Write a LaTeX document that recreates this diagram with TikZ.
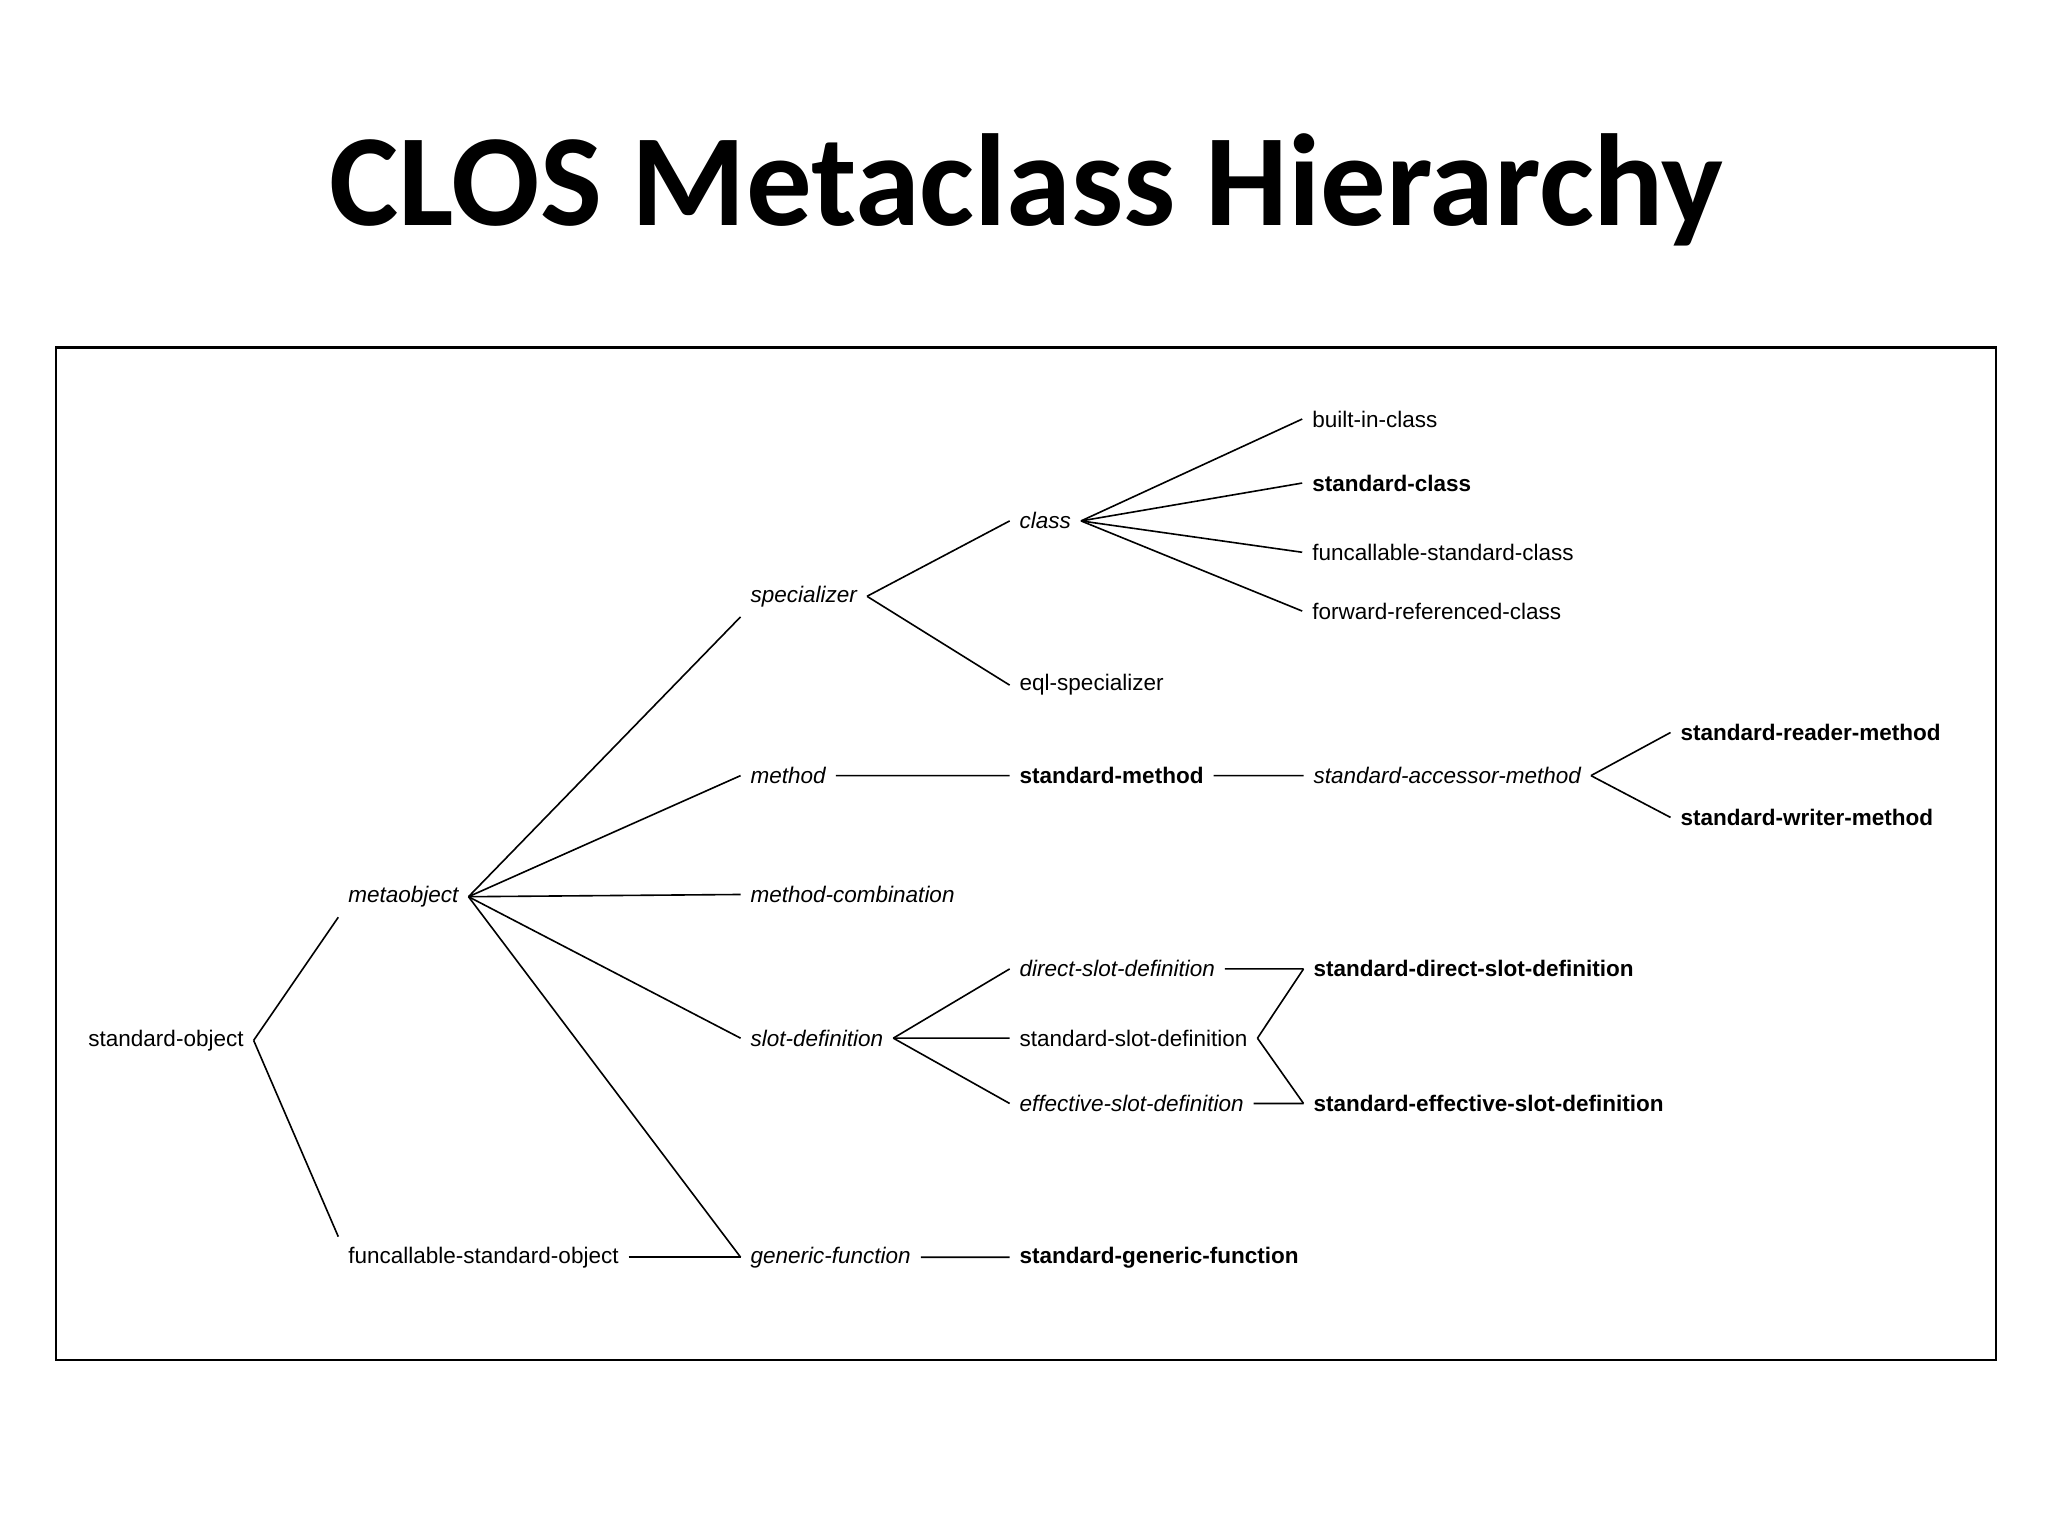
\documentclass[tikz,border=0pt]{standalone}
\usepackage{fontspec}
\setmainfont{Liberation Sans}
\newfontfamily\titlefont{Carlito}
\begin{document}
\begin{tikzpicture}[x=0.01cm,y=-0.01cm,
  lbl/.style={anchor=base west,inner sep=0.07cm,font=\fontsize{4.9pt}{6pt}\selectfont},
  it/.style={lbl,font=\fontsize{4.9pt}{6pt}\selectfont\itshape},
  bf/.style={lbl,font=\fontsize{4.9pt}{6pt}\selectfont\bfseries},
  edge/.style={line width=0.35pt}]
\useasboundingbox (0,0) rectangle (1568,1176);
\node[font=\titlefont\bfseries\fontsize{28.5pt}{32pt}\selectfont] (title) at (786,145) {CLOS Metaclass Hierarchy};
\draw[line width=0.5pt] (43,266) rectangle (1528,1041);
\node[lbl] (so) at (60,801) {standard-object};
\node[it] (mo) at (259,691) {metaobject};
\node[lbl] (fso) at (259,967) {funcallable-standard-object};
\node[it] (sp) at (567,461) {specializer};
\node[it] (me) at (567,600) {method};
\node[it] (mc) at (567,691) {method-combination};
\node[it] (sd) at (567,801) {slot-definition};
\node[it] (gf) at (567,967) {generic-function};
\node[it] (cl) at (773,405) {class};
\node[lbl] (eql) at (773,529) {eql-specializer};
\node[bf] (sm) at (773,600) {standard-method};
\node[it] (dsd) at (773,748) {direct-slot-definition};
\node[lbl] (ssd) at (773,801) {standard-slot-definition};
\node[it] (esd) at (773,851) {effective-slot-definition};
\node[bf] (sgf) at (773,967) {standard-generic-function};
\node[lbl] (bic) at (997,327) {built-in-class};
\node[bf] (sc) at (997,376) {standard-class};
\node[lbl] (fsc) at (997,429) {funcallable-standard-class};
\node[lbl] (frc) at (997,474) {forward-referenced-class};
\node[it] (sam) at (998,600) {standard-accessor-method};
\node[bf] (sdsd) at (998,748) {standard-direct-slot-definition};
\node[bf] (sesd) at (998,851) {standard-effective-slot-definition};
\node[bf] (srm) at (1279,567) {standard-reader-method};
\node[bf] (swm) at (1279,632) {standard-writer-method};
\begin{scope}[edge]
\draw (so.east) -- (mo.south west);
\draw (so.east) -- (fso.north west);
\draw (mo.east) -- (sp.south west);
\draw (mo.east) -- (me.west);
\draw (mo.east) -- (mc.west);
\draw (mo.east) -- (sd.west);
\draw (mo.east) -- (gf.west);
\draw (fso.east) -- (gf.west);
\draw (sp.east) -- (cl.west);
\draw (sp.east) -- (eql.west);
\draw (cl.east) -- (bic.west);
\draw (cl.east) -- (sc.west);
\draw (cl.east) -- (fsc.west);
\draw (cl.east) -- (frc.west);
\draw (me.east) -- (sm.west);
\draw (sm.east) -- (sam.west);
\draw (sam.east) -- (srm.west);
\draw (sam.east) -- (swm.west);
\draw (sd.east) -- (dsd.west);
\draw (sd.east) -- (ssd.west);
\draw (sd.east) -- (esd.west);
\draw (dsd.east) -- (sdsd.west);
\draw (esd.east) -- (sesd.west);
\draw (ssd.east) -- (sdsd.west);
\draw (ssd.east) -- (sesd.west);
\draw (gf.east) -- (sgf.west);
\end{scope}
\end{tikzpicture}
\end{document}
